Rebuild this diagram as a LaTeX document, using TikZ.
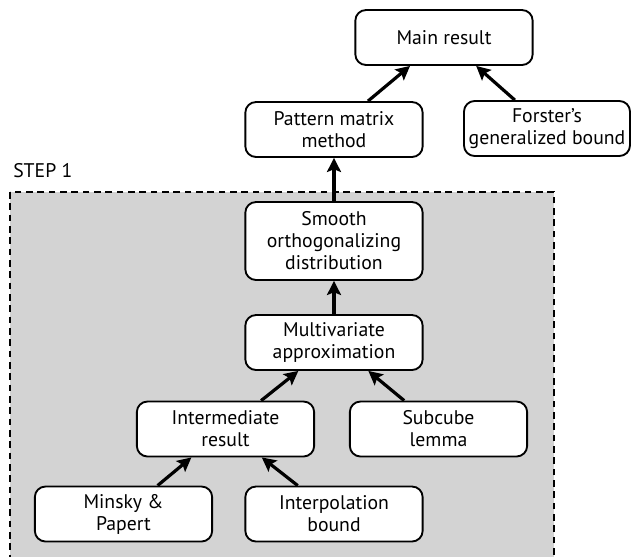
\documentclass[tikz,border=0pt]{standalone}
\usepackage{fontspec}
\setmainfont{PT Sans}
\usetikzlibrary{arrows.meta}
\definecolor{stepgray}{RGB}{211,211,211}
\begin{document}
\begin{tikzpicture}[x=0.75pt,y=-0.75pt,
  txt/.style={font=\fontsize{14.8}{16.5}\selectfont},
  box/.style={txt, draw, line width=1.4pt, rounded corners=8pt, fill=white, align=center,
    minimum width=133pt, minimum height=41.25pt, inner sep=2pt},
  conn/.style={line width=2.4pt, -{Stealth[length=10.5pt,width=10.5pt,inset=2pt]}},
  stepframe/.style={fill=stepgray, draw, line width=1.6pt, dash pattern=on 5pt off 3.5pt}]
\useasboundingbox (0,0) rectangle (632,557);
\clip (0,0) rectangle (632,557);
\draw[stepframe] (10,192) rectangle (554,600);
\node[txt, anchor=base west, inner sep=0pt] (step) at (13,177) {STEP 1};

\node[box] (main) at (444,37.5) {Main result};
\node[box] (pat) at (334,129.5) {Pattern matrix\\method};
\node[box, minimum width=124.5pt] (for) at (547,128.5) {Forster’s\\generalized bound};
\node[box, minimum height=58.5pt] (smooth) at (334,241) {Smooth\\orthogonalizing\\distribution};
\node[box] (multi) at (334,342.5) {Multivariate\\approximation};
\node[box] (inter) at (225.5,429) {Intermediate\\result};
\node[box] (sub) at (438.5,429) {Subcube\\lemma};
\node[box] (minsky) at (123.5,514) {Minsky \&\\Papert};
\node[box] (interp) at (334,514) {Interpolation\\bound};

\draw[conn] (pat) -- (main);
\draw[conn] (for) -- (main);
\draw[conn] (smooth) -- (pat);
\draw[conn] (multi) -- (smooth);
\draw[conn] (inter) -- (multi);
\draw[conn] (sub) -- (multi);
\draw[conn] (minsky) -- (inter);
\draw[conn] (interp) -- (inter);
\end{tikzpicture}
\end{document}
